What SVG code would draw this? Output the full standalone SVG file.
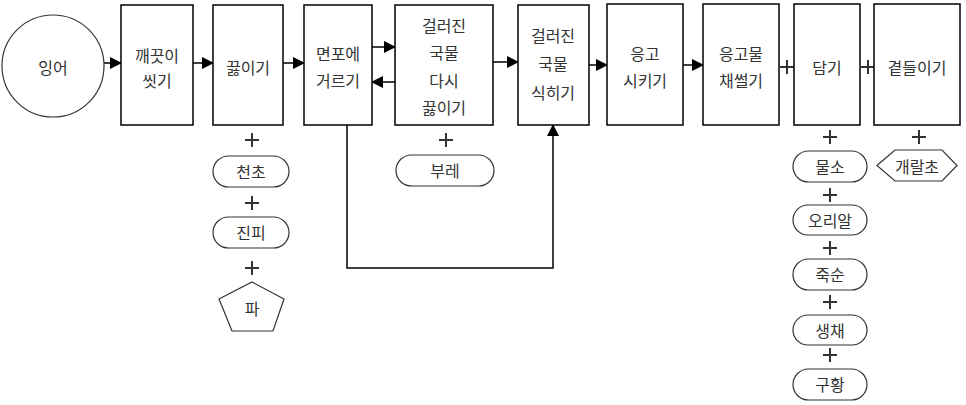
<svg xmlns="http://www.w3.org/2000/svg" width="966" height="405" viewBox="0 0 966 405">
<style>
  .box{fill:#fff;stroke:#000;stroke-width:1.5}
  .sh{fill:#fff;stroke:#333;stroke-width:1.2}
  .t{font-family:"Noto Sans CJK KR","Liberation Sans",sans-serif;font-size:16px;fill:#333;text-anchor:middle;dominant-baseline:central}
  .c{fill:none;stroke:#000;stroke-width:1.5}
  .p{fill:none;stroke:#333;stroke-width:2}
</style>
<defs>
  <marker id="ah" markerWidth="12" markerHeight="12" refX="11" refY="6" orient="auto" markerUnits="userSpaceOnUse">
    <path d="M0,0 L12,6 L0,12 Z" fill="#000"/>
  </marker>
</defs>
<rect width="966" height="405" fill="#fff"/>

<g id="connectors">
  <line class="c" x1="104" y1="63" x2="121" y2="63" marker-end="url(#ah)"/>
  <line class="c" x1="193" y1="63" x2="213" y2="63" marker-end="url(#ah)"/>
  <line class="c" x1="283" y1="63" x2="304" y2="63" marker-end="url(#ah)"/>
  <line class="c" x1="372" y1="47" x2="395" y2="47" marker-end="url(#ah)"/>
  <line class="c" x1="395" y1="82" x2="372" y2="82" marker-end="url(#ah)"/>
  <line class="c" x1="493" y1="62" x2="518" y2="62" marker-end="url(#ah)"/>
  <line class="c" x1="589" y1="65" x2="607" y2="65" marker-end="url(#ah)"/>
  <line class="c" x1="683" y1="65" x2="703" y2="65" marker-end="url(#ah)"/>
  <polyline class="c" points="347,125 347,268 553,268 553,125" marker-end="url(#ah)"/>
  <path class="p" d="M780,67h14M787,60v14 M861,67h14M868,60v14 M245,140h14M252,133v14 M245,203h14M252,196v14 M245,268h14M252,261v14 M439,140h14M446,133v14 M823,137h14M830,130v14 M823,195h14M830,188v14 M823,248h14M830,241v14 M823,302h14M830,295v14 M823,355h14M830,348v14 M912,137h14M919,130v14"/>
</g>

<g id="n-ingeo"><circle class="sh" cx="53" cy="66" r="51"/><text class="t" x="53" y="67">잉어</text></g>
<g id="n-wash"><rect class="box" x="121" y="5" width="72" height="120"/><text class="t" x="157" y="55">깨끗이</text><text class="t" x="157" y="80">씻기</text></g>
<g id="n-boil"><rect class="box" x="213" y="5" width="70" height="120"/><text class="t" x="248" y="67">끓이기</text></g>
<g id="n-filter"><rect class="box" x="304" y="5" width="68" height="120"/><text class="t" x="338" y="53">면포에</text><text class="t" x="338" y="80">거르기</text></g>
<g id="n-reboil"><rect class="box" x="395" y="5" width="98" height="120"/><text class="t" x="444" y="25">걸러진</text><text class="t" x="444" y="52">국물</text><text class="t" x="444" y="80">다시</text><text class="t" x="444" y="107">끓이기</text></g>
<g id="n-cool"><rect class="box" x="518" y="5" width="71" height="120"/><text class="t" x="553" y="35">걸러진</text><text class="t" x="553" y="63">국물</text><text class="t" x="553" y="92">식히기</text></g>
<g id="n-set"><rect class="box" x="607" y="4" width="76" height="121"/><text class="t" x="645" y="53">응고</text><text class="t" x="645" y="80">시키기</text></g>
<g id="n-slice"><rect class="box" x="703" y="4" width="76" height="121"/><text class="t" x="741" y="53">응고물</text><text class="t" x="741" y="80">채썰기</text></g>
<g id="n-plate"><rect class="box" x="794" y="4" width="66" height="121"/><text class="t" x="827" y="67">담기</text></g>
<g id="n-garnish"><rect class="box" x="874" y="4" width="86" height="121"/><text class="t" x="917" y="67">곁들이기</text></g>

<g id="n-cheoncho"><rect class="sh" x="213" y="156" width="76" height="31" rx="15.5"/><text class="t" x="251" y="171">천초</text></g>
<g id="n-jinpi"><rect class="sh" x="213" y="217" width="76" height="31" rx="15.5"/><text class="t" x="251" y="232">진피</text></g>
<g id="n-pa"><polygon class="sh" points="252,282 284,299 273,331 232,331 219,299"/><text class="t" x="252" y="308">파</text></g>
<g id="n-bure"><rect class="sh" x="396" y="155" width="98" height="31" rx="15.5"/><text class="t" x="445" y="170">부레</text></g>
<g id="n-mulso"><rect class="sh" x="793" y="151" width="74" height="31" rx="15.5"/><text class="t" x="830" y="166">물소</text></g>
<g id="n-egg"><rect class="sh" x="793" y="205" width="74" height="30" rx="15"/><text class="t" x="830" y="220">오리알</text></g>
<g id="n-juksun"><rect class="sh" x="793" y="259" width="74" height="31" rx="15.5"/><text class="t" x="830" y="274">죽순</text></g>
<g id="n-saengchae"><rect class="sh" x="793" y="315" width="74" height="30" rx="15"/><text class="t" x="830" y="330">생채</text></g>
<g id="n-guhwang"><rect class="sh" x="793" y="369" width="74" height="31" rx="15.5"/><text class="t" x="830" y="384">구황</text></g>
<g id="n-gaeral"><polygon class="sh" points="877,165.5 895,150 942,150 957,165.5 942,181 895,181"/><text class="t" x="917" y="166">개랄초</text></g>
</svg>
